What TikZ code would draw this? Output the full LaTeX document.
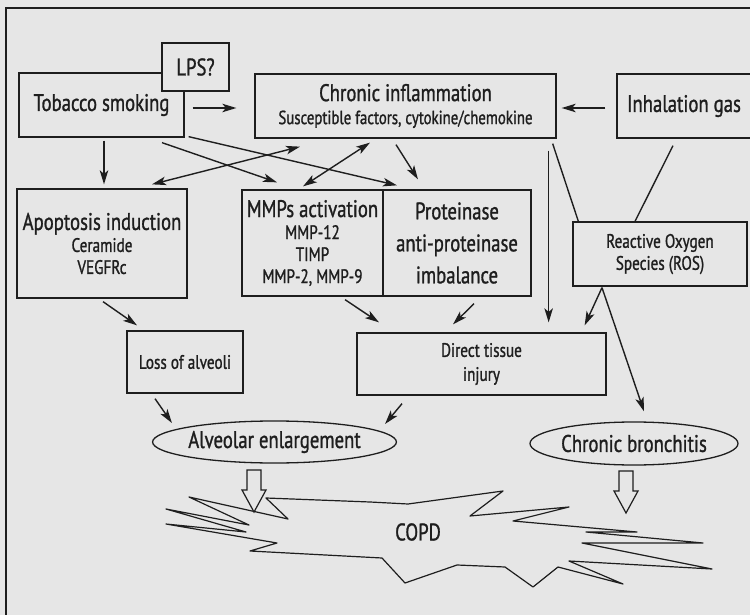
\documentclass[tikz,border=0pt]{standalone}
\usepackage{fontspec}
\setmainfont[FakeStretch=0.78,FakeBold=1.1]{PT Sans}
\usetikzlibrary{arrows.meta,shapes.geometric}
\definecolor{bgc}{HTML}{E6E6E6}
\definecolor{ink}{HTML}{1E1E1E}
\newcommand\fbig{\fontsize{24}{27}\selectfont}
\newcommand\fsm{\fontsize{19.5}{22}\selectfont}
\newcommand\fchr{\fontsize{19}{22}\selectfont}
\begin{document}
\begin{tikzpicture}[x=1pt,y=-1pt,
  box/.style={draw=ink, line width=1.3pt, rectangle, inner sep=0pt, align=center, text=ink},
  oval/.style={draw=ink, line width=1.3pt, ellipse, inner sep=0pt, text=ink, font=\fbig},
  arr/.style={draw=ink, line width=1.4pt, -{Stealth[length=14pt,width=8.5pt,inset=3.5pt]}},
  darr/.style={draw=ink, line width=1.4pt, {Stealth[length=14pt,width=8.5pt,inset=3.5pt]}-{Stealth[length=14pt,width=8.5pt,inset=3.5pt]}},
  plain/.style={draw=ink, line width=1.4pt},
  blk/.pic={\draw[ink, line width=1.2pt, fill=bgc] (-7,0) -- (7,0) -- (7,20) -- (12,20) -- (0,42) -- (-12,20) -- (-7,20) -- cycle;}
]
\useasboundingbox (0,0) rectangle (750,615);
\fill[bgc] (0,0) rectangle (750,615);
\draw[ink, line width=1.3pt] (6,615) -- (6,8) -- (751,8);

% boxes
\node[box, minimum width=165pt, minimum height=64pt, font=\fbig] (tob) at (101.5,105) {Tobacco smoking};
\node[box, fill=bgc, minimum width=67pt, minimum height=48pt, font=\fbig] (lps) at (195.5,67) {LPS?};
\node[box, minimum width=301pt, minimum height=64pt, font=\fchr] (chr) at (405.5,106) {{\fbig Chronic inflammation}\\[1pt]Susceptible factors, cytokine/chemokine};
\node[box, minimum width=134pt, minimum height=64pt, font=\fbig] (inh) at (684,106) {Inhalation gas};
\node[box, minimum width=170pt, minimum height=109pt, font=\fsm] (apo) at (102,243.5) {{\fbig Apoptosis induction}\\Ceramide\\VEGFRc};
\node[box, minimum width=141pt, minimum height=106pt, font=\fsm] (mmp) at (312.5,243) {{\fbig MMPs activation}\\MMP-12\\TIMP\\MMP-2, MMP-9};
\node[box, minimum width=148pt, minimum height=106pt, font=\fbig] (pro) at (457,243) {Proteinase\\[5pt]anti-proteinase\\[5pt]imbalance};
\node[box, minimum width=174pt, minimum height=64pt, font=\fsm] (ros) at (660,254) {Reactive Oxygen\\Species (ROS)};
\node[box, minimum width=116pt, minimum height=62pt, font=\fsm] (loss) at (185,362) {Loss of alveoli};
\node[box, minimum width=249pt, minimum height=62pt, font=\fsm] (dti) at (481.5,364) {Direct tissue\\[2pt]injury};
\node[oval, minimum width=209pt, minimum height=42pt] (alv) at (274.5,442) {Alveolar enlargement};
\node[oval, minimum width=208pt, minimum height=43pt] (bro) at (634,443.5) {Chronic bronchitis};

% COPD burst
\draw[plain, line width=1.2pt, line join=round] (266,498) -- (370,502) -- (408,504) -- (503,491) -- (470,516) -- (569,507) -- (513,521) -- (637,532) -- (586,532) -- (703,543) -- (582,543) -- (712,569) -- (569,561) -- (623,584) -- (558,567) -- (533,587) -- (505,567) -- (457,565) -- (405,583) -- (382,558) -- (250,551) -- (277,543) -- (166,524) -- (246,532) -- (166,509) -- (249,525) -- (189,497) -- (288,519) -- cycle;
\node[text=ink, font=\fbig, inner sep=0pt] (copd) at (418,532) {COPD};
\pic at (254,470) {blk};
\pic at (626,471) {blk};

% connectors
\draw[arr] ([shift={(8,3)}]tob.east) -- ([shift={(-18,2)}]chr.west);
\draw[arr] ([shift={(-11,2)}]inh.west) -- ([shift={(5,2)}]chr.east);
\draw[arr] ([shift={(2.5,3)}]tob.south) -- ([shift={(2,-4)}]apo.north);
\draw[arr] ([shift={(60.5,5)}]tob.south) -- ([shift={(-35.5,-7)}]mmp.north);
\draw[arr] ([shift={(4,-1)}]tob.south east) -- ([shift={(-60,-4)}]pro.north);
\draw[darr] ([shift={(50,-4)}]apo.north) -- ([shift={(-105.5,8)}]chr.south);
\draw[darr] ([shift={(-9.5,-3)}]mmp.north) -- ([shift={(-35.5,4)}]chr.south);
\draw[arr] ([shift={(-9.5,6)}]chr.south) -- ([shift={(-39,-10)}]pro.north);
\draw[arr] ([shift={(-8,12)}]chr.south east) -- ([shift={(-58,-10)}]dti.north east);
\draw[plain] ([shift={(-4,5)}]chr.south east) -- ([shift={(6,0)}]ros.north west);
\draw[plain] ([shift={(-11,7)}]inh.south) -- ([shift={(-25,0)}]ros.north);
\draw[arr] ([shift={(1,3)}]apo.south) -- ([shift={(-48,-5)}]loss.north);
\draw[arr] ([shift={(32.5,3)}]mmp.south) -- ([shift={(-102.5,-10)}]dti.north);
\draw[arr] ([shift={(17,7)}]pro.south) -- ([shift={(-28.5,-8)}]dti.north);
\draw[arr] ([shift={(-58,1)}]ros.south) -- ([shift={(-22,-7)}]dti.north east);
\draw[arr] ([shift={(-58,1)}]ros.south) -- ([shift={(10,-10)}]bro.north);
\draw[arr] ([shift={(-30,5)}]loss.south) -- ([shift={(20,-19)}]alv.west);
\draw[arr] ([shift={(-79.5,8)}]dti.south) -- ([shift={(-12,-18)}]alv.east);
\end{tikzpicture}
\end{document}
